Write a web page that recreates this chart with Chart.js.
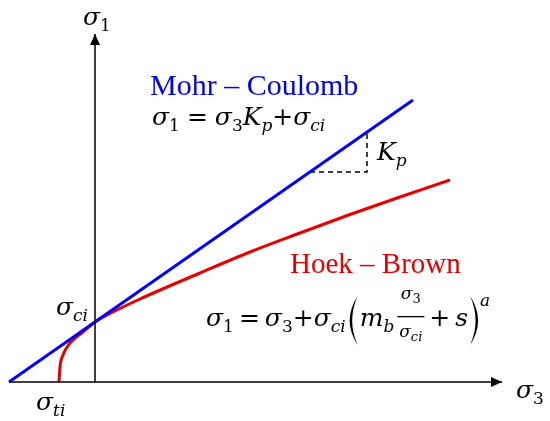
<!DOCTYPE html>
<html><head><meta charset="utf-8">
<script src="https://cdn.jsdelivr.net/npm/chart.js@4.4.0/dist/chart.umd.min.js"></script>
<style>
html,body{margin:0;padding:0;background:#fff}
#wrap{width:550px;height:421px;position:relative}
</style></head><body>
<div id="wrap"><canvas id="c"></canvas></div>
<script>
// schematic units: sigma3 to the right, sigma1 up (origin where the axes cross)
const mcX = [-8.6, 31.8];
const mcY = [0, 28.2];
const hbX = [-3.6, -3.5, -3.2, -2.5, -1.2, 0, 1.8, 4.5, 10.5, 15.5, 20.5, 25.5, 30.5, 35.5];
const hbY = [0, 1.5, 2.7, 3.9, 5.0, 6.0, 7.0, 8.3, 10.9, 13.0, 14.9, 16.75, 18.5, 20.2];
const kpX = [21.5, 27.2, 27.2];
const kpY = [21.0, 21.0, 24.9];
const axis3X = [-8.6, 40.7], axis3Y = [0, 0];
const axis1X = [0, 0], axis1Y = [0, 34.8];

const BLUE = 'rgb(0,0,255)', RED = 'rgb(232,0,0)';
const M = 25, S = 17;
const mf = (sz, it) => `${it ? 'italic ' : ''}${sz}px "DejaVu Serif"`;

// tokens: main italic, main upright, subscript, superscript, gap
const I = t => ({ t, sz: M, it: true });
const U = t => ({ t, sz: M });
const sub = (t, it) => ({ t, sz: S, it, dy: 6 });
const sup = (t, it) => ({ t, sz: S, it, dy: -20 });
const G = w => ({ gap: w });

function runText(ctx, x, y, toks) {
  for (const k of toks) {
    if (k.gap) {
      x += k.gap;
    } else if (k.frac) {
      const wN = measure(ctx, k.frac[0]), wD = measure(ctx, k.frac[1]);
      const w = Math.max(wN, wD) + 4;
      runText(ctx, x + (w - wN) / 2, y - 27, k.frac[0]);
      runText(ctx, x + (w - wD) / 2, y + 11, k.frac[1]);
      ctx.fillRect(x, y - 10, w, 1.3);
      x += w;
    } else if (k.paren) {
      paren(ctx, x, y - 30, y + 19, k.paren);
      x += 12;
    } else {
      ctx.font = mf(k.sz, k.it);
      ctx.fillText(k.t, x, y + (k.dy || 0));
      x += ctx.measureText(k.t).width;
    }
  }
  return x;
}
function measure(ctx, toks) {
  let w = 0;
  for (const k of toks) { ctx.font = mf(k.sz, k.it); w += ctx.measureText(k.t).width; }
  return w;
}
function paren(ctx, x, top, bot, side) {
  const mid = (top + bot) / 2, w = 8;
  const x0 = side === '(' ? x + w + 2 : x + 2, dir = side === '(' ? -1 : 1;
  ctx.beginPath();
  ctx.moveTo(x0, top);
  ctx.quadraticCurveTo(x0 + dir * w * 2, mid, x0, bot);
  ctx.quadraticCurveTo(x0 + dir * (w * 2 - 5), mid, x0, top);
  ctx.fill();
}

const mcTex = [I('σ'), sub('1'), G(7), U('='), G(7), I('σ'), sub('3'), I('K'), sub('p', true), U('+'), I('σ'), sub('ci', true)];
const hbTex = [I('σ'), sub('1'), G(5), U('='), G(5), I('σ'), sub('3'), U('+'), I('σ'), sub('ci', true), G(2),
  { paren: '(' }, I('m'), sub('b', true), G(3),
  { frac: [[{ t: 'σ', sz: S, it: true }, { t: '3', sz: 13, dy: 4 }], [{ t: 'σ', sz: S, it: true }, { t: 'ci', sz: 13, it: true, dy: 4 }]] },
  G(5), U('+'), G(5), I('s'), { paren: ')' }, sup('a', true)];

const deco = {
  id: 'deco',
  afterDatasetsDraw(chart) {
    const ctx = chart.ctx;
    ctx.save();
    ctx.fillStyle = '#000';
    // arrow heads at the axis ends
    const p3 = chart.getDatasetMeta(0).data[1], p1 = chart.getDatasetMeta(1).data[1];
    ctx.beginPath(); ctx.moveTo(p3.x, p3.y); ctx.lineTo(p3.x - 11, p3.y - 5); ctx.lineTo(p3.x - 11, p3.y + 5); ctx.fill();
    ctx.beginPath(); ctx.moveTo(p1.x, p1.y); ctx.lineTo(p1.x - 5, p1.y + 11); ctx.lineTo(p1.x + 5, p1.y + 11); ctx.fill();

    ctx.textBaseline = 'alphabetic';
    runText(ctx, 83, 25, [I('σ'), sub('1')]);
    runText(ctx, 516, 398, [I('σ'), sub('3')]);
    runText(ctx, 56, 315, [I('σ'), sub('ci', true)]);
    runText(ctx, 36, 410, [I('σ'), sub('ti', true)]);
    runText(ctx, 377, 160, [I('K'), sub('p', true)]);
    runText(ctx, 152, 125, mcTex);
    runText(ctx, 206, 326, hbTex);

    ctx.font = '30px "Liberation Serif"';
    ctx.fillStyle = BLUE; ctx.fillText('Mohr – Coulomb', 150, 95);
    ctx.font = '29px "Liberation Serif"';
    ctx.fillStyle = RED; ctx.fillText('Hoek – Brown', 290, 273);
    ctx.restore();
  }
};

const line = (xs, ys, color, width, extra) => ({
  data: xs.map((x, i) => ({ x, y: ys[i] })), showLine: true, borderColor: color,
  borderWidth: width, pointRadius: 0, fill: false, ...extra
});

new Chart(document.getElementById('c'), {
  type: 'scatter',
  data: { datasets: [
    line(axis3X, axis3Y, '#000', 1.5),
    line(axis1X, axis1Y, '#000', 1.5),
    line(mcX, mcY, BLUE, 3),
    line(hbX, hbY, RED, 3, { cubicInterpolationMode: 'monotone' }),
    line(kpX, kpY, '#000', 1.5, { borderDash: [5, 4] }),
  ] },
  options: {
    animation: false, responsive: true, maintainAspectRatio: false,
    layout: { padding: 0 },
    plugins: { legend: { display: false }, tooltip: { enabled: false } },
    scales: {
      x: { type: 'linear', min: -9.5, max: 45.5, display: false },
      y: { type: 'linear', min: -3.9, max: 38.2, display: false }
    }
  },
  plugins: [deco]
});
</script>
</body></html>
